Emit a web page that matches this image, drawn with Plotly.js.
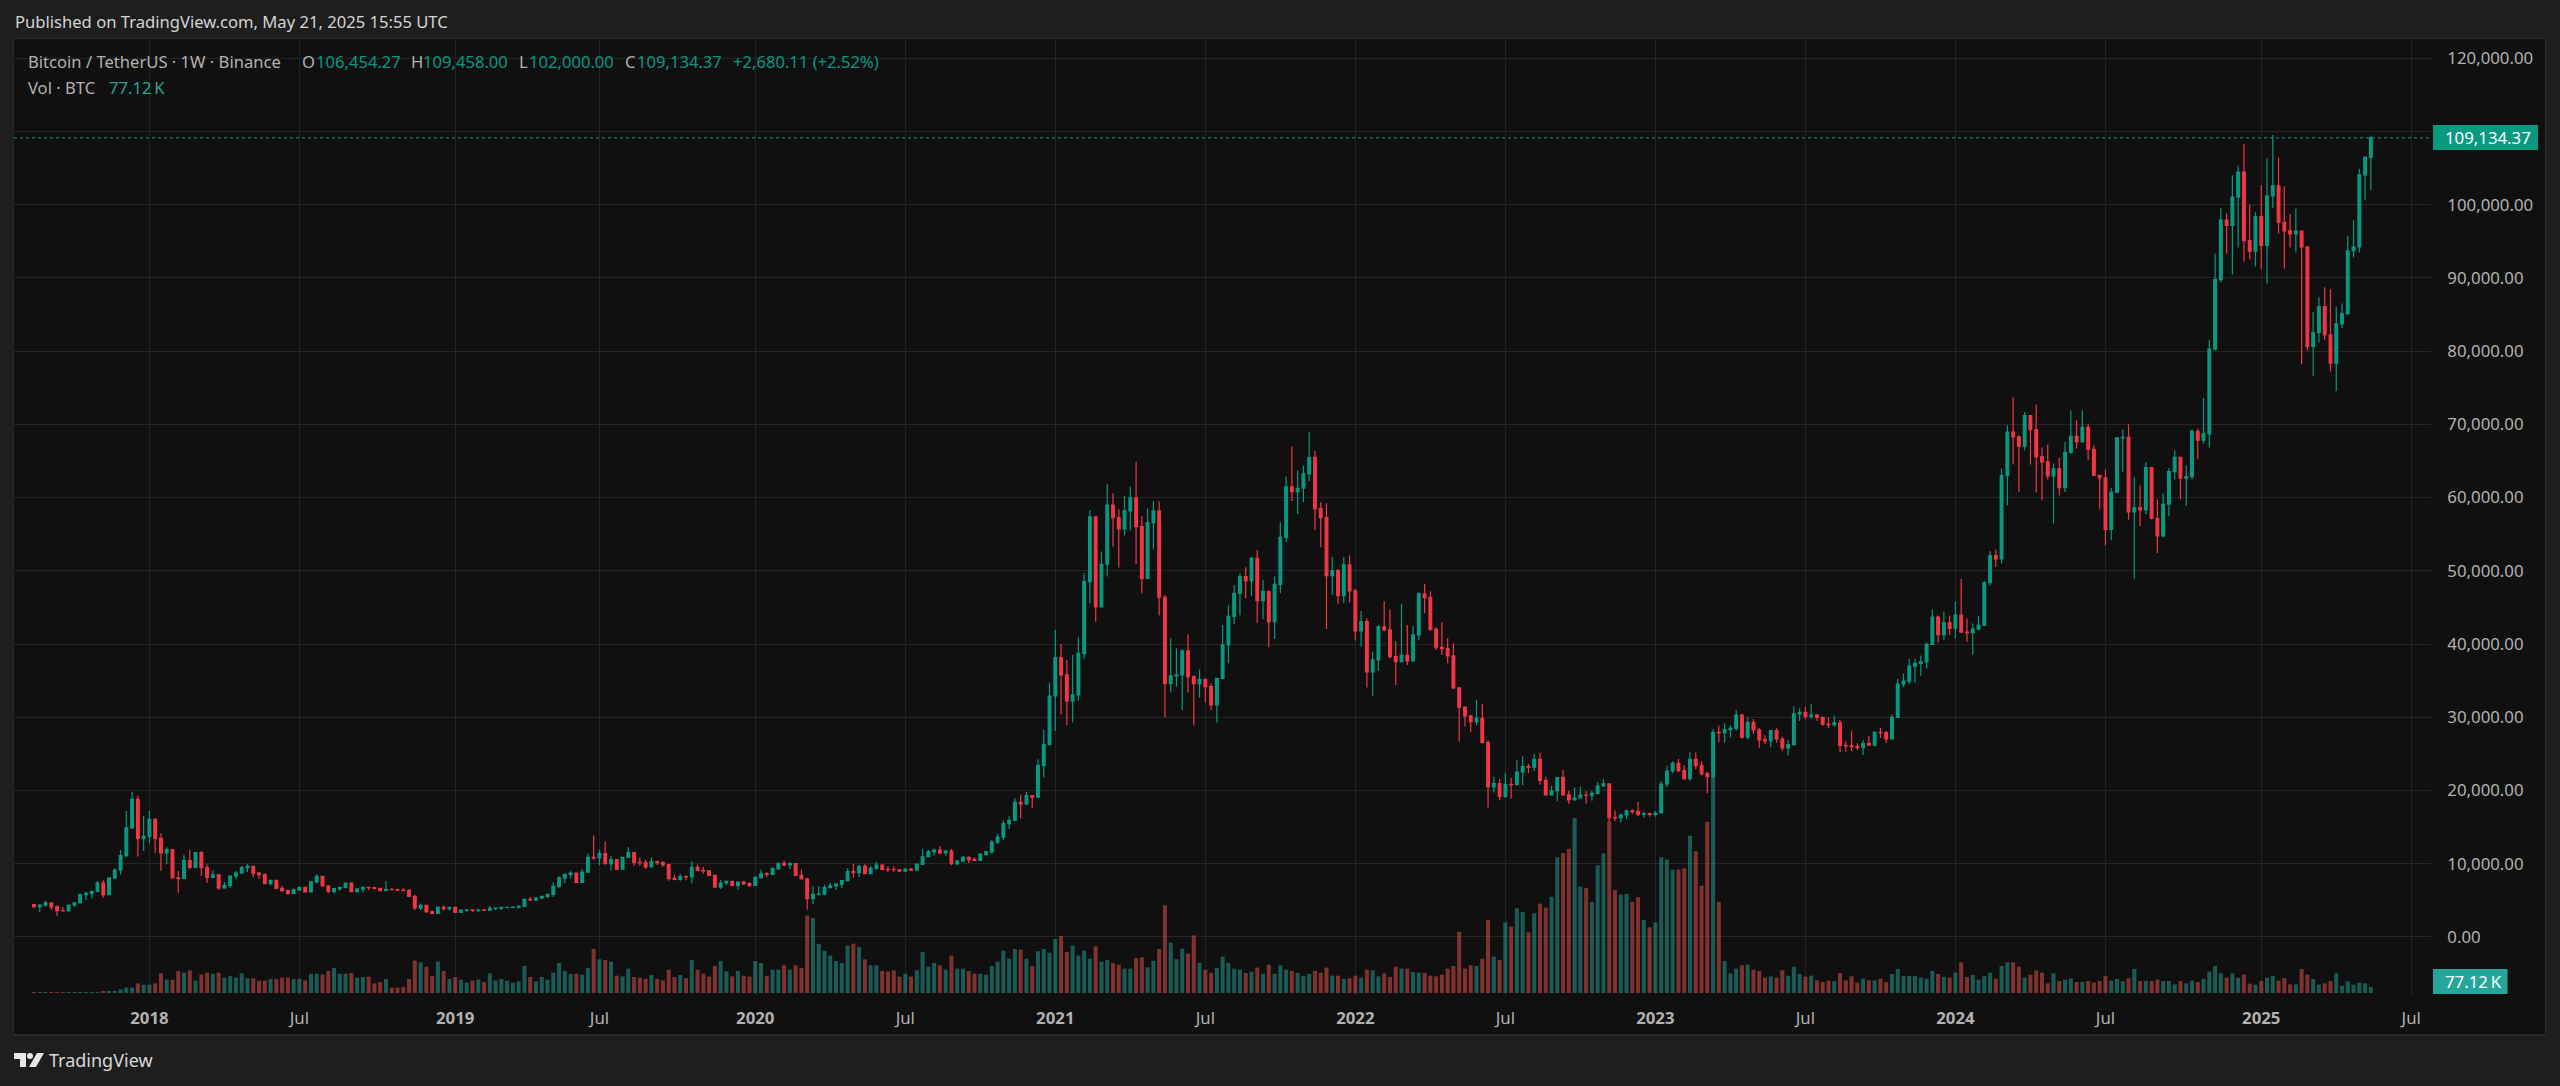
<!DOCTYPE html>
<html><head><meta charset="utf-8">
<script src="https://cdn.plot.ly/plotly-3.0.1.min.js"></script>
<style>html,body{margin:0;padding:0;background:#1e1e1e}#c{width:2560px;height:1086px}</style>
</head><body><div id="c"></div>
<script>
const firstOpen = 4400;
const closes = [
4120,4360,4640,4100,3590,3560,4360,4640,5770,5950,
6230,7365,5770,8050,9140,11100,14880,18790,13465,13740,
16060,13465,11465,11920,8050,8000,10420,9500,11510,9460,
8140,8460,6680,7050,8320,8730,9460,9640,8720,8540,
7270,7730,6640,6320,5950,6410,6770,6130,7500,8270,
6960,6230,6590,6770,7365,6180,6550,6770,6730,6630,
6320,6500,6450,6380,6340,5540,3950,4320,3410,3220,
4040,3860,4040,3360,3660,3680,3640,3700,3650,3900,
3920,4020,4040,4070,4170,5130,5040,5310,5540,5800,
6905,8050,8545,8730,7450,8860,10860,10780,11370,10000,
10550,9270,10860,11510,10184,10130,9546,10275,10140,9880,
7980,7860,8250,8200,9500,9090,9030,8410,6810,7360,
7580,7040,7470,7280,7040,8090,8620,8540,9320,10050,
9820,10000,8410,7910,5220,5810,5850,6720,6980,7220,
7680,8910,8770,9640,8630,9370,9790,9230,9200,9180,
8990,9270,9130,9910,10950,11640,11870,11460,11730,10000,
10370,10870,10550,10450,11270,11600,12960,13640,15460,15920,
18380,18150,19290,19100,23430,26250,32900,38140,35780,32230,
33050,38730,48530,57360,45070,50900,58960,57270,55720,58180,
59960,56040,48980,56590,58180,46390,34600,35640,35800,39060,
35550,34600,35190,34190,31680,35320,39880,43790,46930,49210,
48620,51710,45930,47210,43060,48160,54580,61460,60820,61280,
63230,65470,58500,57270,49350,50030,46620,50800,47250,41790,
43060,36190,37830,42340,41930,38290,37600,38470,37690,41240,
46840,46340,42020,39560,39380,38370,34000,31370,30180,29400,
29860,26540,20520,20930,19200,20840,20800,22520,23250,23200,
24250,21380,19380,19930,21750,19400,18700,18970,19380,19350,
19600,20610,20890,16290,16250,16650,17200,17100,16770,16830,
16720,16920,20880,22660,23700,22700,21620,24250,23440,22300,
21890,27950,27900,28300,28490,30300,27270,29300,28260,26900,
26780,28160,27030,25800,26260,30450,30670,30100,30290,29990,
29050,28980,29250,26170,26100,25990,25860,26440,26190,27950,
27900,27060,29990,34530,34940,36990,37350,37580,39950,43680,
41270,42900,42130,43950,41630,41550,42040,42540,48370,52080,
51620,63010,68930,68290,67010,71200,69290,65560,64870,62960,
63920,61370,66190,68380,67650,69610,66600,63050,62690,55670,
60730,68150,68240,58040,58640,58320,64100,57180,54770,59090,
63550,65510,62640,62870,69060,67830,68700,80280,89780,97890,
97160,101030,104440,95110,93650,98390,94430,101210,102580,97610,
96430,96020,96390,94240,80630,82540,86100,82220,78360,83730,
85100,93700,94240,104080,106454.27,109134.37];
const highs = [
4450,4450,4950,4720,4315,4130,4420,4700,5920,6135,
6280,7590,7730,8140,9370,11870,17200,19790,19290,16520,
17200,16200,14150,12240,11960,9000,11230,11830,11600,11690,
9920,9100,8480,7500,8420,9000,9690,10000,9680,8820,
8550,7780,7750,6960,6480,6640,6820,6860,7680,8550,
8250,7050,6680,6860,7380,7400,6590,6860,6860,6820,
6700,7640,6650,6590,6640,6540,5730,4550,4230,3640,
4180,4270,4130,4090,3720,3700,3690,3770,3770,4230,
4000,4100,4100,4100,4320,5220,5450,5400,5590,5910,
7450,8270,8620,8950,8770,9270,11370,13870,11910,13050,
11000,10590,10950,12280,11530,10870,10550,10870,10410,10320,
10000,8450,8630,8410,10320,9900,9550,9000,8500,7810,
7720,7600,7500,7680,7500,8320,9180,8820,9500,10090,
10450,10230,10050,9180,8090,6910,6910,7130,7400,7320,
7810,9360,9970,9860,9910,9680,10270,9960,9640,9640,
9270,9370,9410,10050,12050,11910,12050,12370,11910,12000,
10500,11050,11010,10870,11460,11730,13280,14100,15920,16470,
18930,19430,19830,19330,24250,28300,34720,41930,40015,37830,
38510,40925,49670,58320,57500,52630,61820,60590,58410,60230,
61500,64870,57500,58540,59500,59450,46700,40790,39420,39330,
41330,35690,36550,35300,34640,35320,42610,45300,48070,49670,
50490,51900,52850,48750,47210,49210,56630,62870,66970,63690,
64330,68970,66380,59360,59230,51900,50260,51850,52080,47520,
44520,43520,38970,42610,45840,44750,40330,45480,42610,42470,
47070,48250,47210,42300,42970,40790,40100,34100,31500,30300,
32360,31820,26900,21890,21530,22430,21700,24200,24660,23660,
25030,25160,21840,20620,21840,22800,19930,20430,20520,19930,
19930,21120,21520,21000,17250,16820,17350,17430,18430,17110,
16970,17200,21250,23350,23990,24300,23480,25210,25210,23940,
22570,28400,28855,29170,28870,30950,30450,30080,29760,28540,
27540,28260,28490,27350,26900,31500,31220,31450,31810,30430,
30080,30000,30220,29630,26710,28170,26440,26900,27490,28080,
28580,28120,30400,35270,35940,37940,37940,38440,40220,44720,
43890,44410,43860,45820,48870,43500,42810,43820,48640,52720,
52900,63960,69880,73660,68520,71700,71200,72700,66830,67240,
64650,65420,67610,71930,70560,71930,70110,67150,63100,63830,
61320,68290,69290,70020,62730,61690,64870,64100,59770,60550,
64010,66470,65500,64420,69290,69420,73610,81540,93290,99570,
98840,104030,105310,108310,99980,98980,102710,106350,109540,106450,
102480,98750,99480,96300,94300,85320,87370,88730,88460,86100,
86500,95750,97890,104900,106630,109458];
const lows = [
3900,3360,4130,3670,2860,3540,3540,4130,4580,5040,
5270,6100,5360,5760,7860,8550,10870,14740,10960,11740,
12780,11510,9050,9960,8010,6040,7980,9230,9370,8320,
7365,8050,6410,6590,6680,7870,8590,8870,8140,7910,
7230,7050,6620,6180,5770,5820,6270,6040,6270,7330,
6910,5950,5910,6280,6640,6140,6130,6050,6360,6500,
6220,6270,6400,6330,6320,5500,3680,3680,3310,3180,
3180,3590,3590,3300,3450,3400,3400,3350,3540,3650,
3680,3680,3900,3900,3860,4070,4860,4910,5140,5270,
5450,6720,7360,8000,7400,7430,8820,10550,9780,9900,
9050,9090,9370,10770,9680,9720,9280,9640,9820,9590,
7680,7730,7680,7730,7320,8950,8640,8360,6720,6540,
7130,6990,6450,7040,6810,7000,7950,8180,8500,9140,
9640,9270,8360,7860,3720,4450,5640,5680,6770,6400,
6680,7590,8090,8180,8590,8590,9220,9090,8860,8820,
8860,8820,8990,9090,9880,10910,11100,11280,11100,9770,
9770,10180,10090,10320,10450,11050,11360,12690,13190,14780,
15830,16200,18020,17600,18970,21800,28080,28130,30360,28950,
29300,32270,38010,45570,43060,45000,49210,53310,50440,54810,
55490,50940,46930,48900,52940,43880,29990,33370,34190,30990,
33370,28860,32680,32000,31000,29270,35200,37370,42750,43930,
46250,46570,42880,43380,39560,40700,46930,53950,59550,57770,
59410,62280,55590,53220,42060,46710,45480,45570,45660,40470,
39650,34050,32910,36330,41700,38010,34410,37500,37150,37600,
40470,44200,41790,39200,38510,37370,33820,26670,28720,27990,
28900,26440,17660,19710,18650,18980,18880,20700,20700,22390,
22660,20790,19300,19300,18520,19300,18160,18600,18900,18200,
18610,19450,20500,15740,15840,15610,16060,16780,16500,16290,
16400,16430,16950,20430,22340,22530,21420,21340,22890,22030,
19610,21890,26580,26530,27220,28170,27080,26990,27720,25850,
26350,25900,26530,25440,24760,26200,29490,29720,29790,29490,
28850,28540,28700,25210,25300,25350,25530,24850,26080,26000,
27170,26490,27000,29900,34100,34550,34750,35660,36670,39900,
40220,40540,41220,40770,41500,40310,38530,41900,42500,48000,
50530,50990,58950,64510,60780,66470,64510,60680,59640,62460,
56450,60270,60780,66000,66700,67500,65100,62900,58410,53490,
54170,60600,63460,56990,48940,56090,57770,57000,52440,54600,
57450,62460,59770,58860,62460,65240,67380,66830,80100,89420,
93290,90510,94150,92240,92560,91560,91240,89240,99530,96110,
91240,94150,93470,78260,80080,76620,81180,81540,77220,74530,
83130,85100,92830,93470,100660,102000];
const volumesK = [
13,13,13,13,13,13,13,13,13,13,
13,13,26,26,26,47,69,69,124,107,
107,124,253,171,171,283,261,291,159,236,
261,248,261,197,218,197,253,189,189,159,
159,180,180,197,197,180,180,163,248,248,
236,283,321,248,248,257,197,206,210,124,
141,180,69,69,77,180,416,394,338,218,
403,283,180,206,171,133,159,171,141,253,
159,180,159,133,150,347,206,150,206,171,
261,386,283,244,248,236,321,566,433,424,
403,223,214,313,206,197,180,231,180,163,
300,206,231,189,424,300,248,210,347,411,
278,214,283,223,210,411,386,218,300,300,
356,300,356,321,994,964,630,544,480,411,
386,608,634,591,433,356,356,283,274,291,
210,248,210,291,527,338,386,356,300,480,
313,313,283,248,248,236,347,403,544,441,
566,557,441,347,536,566,518,694,733,527,
608,480,544,441,600,403,424,386,364,313,
313,450,458,330,411,566,1127,647,433,570,
506,741,386,300,257,321,467,386,313,300,
257,274,326,248,364,248,356,300,283,257,
218,244,283,261,326,223,223,180,189,223,
197,300,291,214,253,206,338,313,313,270,
261,261,223,214,236,313,347,788,313,356,
347,441,938,467,424,908,853,1088,1041,780,
1024,1148,1097,1238,1744,1799,1855,2249,1367,1350,
1170,1641,1791,2206,1324,1264,1272,1170,1230,938,
844,908,1744,1714,1585,1585,1602,2022,1821,1379,
2202,2785,1170,411,253,313,356,364,300,283,
197,214,197,291,223,338,244,210,223,163,
141,159,150,257,163,214,133,184,163,163,
184,141,244,308,218,218,218,197,184,283,
244,206,197,261,394,206,231,171,218,261,
184,347,394,394,338,197,236,291,261,124,
253,154,171,184,141,141,154,133,154,218,
159,180,150,189,308,154,154,154,171,154,
154,111,154,124,159,141,180,274,347,253,
197,253,197,236,120,107,154,197,218,159,
189,111,111,308,236,180,107,124,154,253,
94,150,107,133,124,77.12];
const priceTicks = [0,10000,20000,30000,40000,50000,60000,70000,80000,90000,100000,110000,120000];
const timeTickDates = ['2018-01-01','2018-07-02','2019-01-07','2019-07-01','2020-01-06','2020-07-06','2021-01-04','2021-07-05','2022-01-03','2022-07-04','2023-01-02','2023-07-03','2024-01-01','2024-07-01','2025-01-06','2025-07-07'];
const timeTickLabels = ['2018','Jul','2019','Jul','2020','Jul','2021','Jul','2022','Jul','2023','Jul','2024','Jul','2025','Jul'];

if (closes.length!==406||highs.length!==406||lows.length!==406||volumesK.length!==406)
  throw new Error('len '+[closes.length,highs.length,lows.length,volumesK.length]);

const weeks = closes.map((_,i)=>new Date(Date.UTC(2017,7,14+7*i)).toISOString().slice(0,10));
const opens = closes.map((_,i)=>i===0?firstOpen:closes[i-1]);
const volColors = closes.map((c,i)=>c>=opens[i]?'rgba(38,166,154,0.5)':'rgba(239,83,80,0.5)');

const UP='#089981', DOWN='#f23645', FONT='"Noto Sans","Open Sans",sans-serif';
const L=14,R=2431,T=39,B=995;
const px=x=>(x-L)/(R-L), py=y=>(B-y)/(B-T);

const traces=[
 {type:'bar',x:weeks,y:volumesK.map(v=>v*1000),marker:{color:volColors,line:{width:0}},yaxis:'y',xaxis:'x',hoverinfo:'skip'},
 {type:'candlestick',x:weeks,open:opens,high:highs,low:lows,close:closes,yaxis:'y2',xaxis:'x',whiskerwidth:0,
  increasing:{line:{color:UP,width:1.2},fillcolor:UP},decreasing:{line:{color:DOWN,width:1.2},fillcolor:DOWN},hoverinfo:'skip'}
];
const txt=(x,y,text,color,size)=>({xref:'paper',yref:'paper',x:px(x),y:py(y),xanchor:'left',yanchor:'middle',text,showarrow:false,align:'left',borderpad:0,
  font:{family:FONT,size:size||16.6,color}});
const GREY='#b2b2b2', GV='#089981';
const annotations=[
 txt(14,22,'Published on TradingView.com, May 21, 2025 15:55 UTC','#d4d4d4'),
 txt(27,62,'Bitcoin / TetherUS · 1W · Binance',GREY),
 txt(301,62,'O',GREY),txt(315,62,'106,454.27',GV),
 txt(410,62,'H',GREY),txt(422,62,'109,458.00',GV),
 txt(518,62,'L',GREY),txt(528,62,'102,000.00',GV),
 txt(624,62,'C',GREY),txt(636,62,'109,134.37',GV),
 txt(732,62,'+2,680.11 (+2.52%)',GV),
 txt(27,87,'Vol · BTC',GREY),txt(108,87,'77.12\u202fK','#26a69a'),
 txt(2444,137.5,'109,134.37','#ffffff',16.8),
 txt(2444,981.5,'77.12\u202fK','#ffffff',16.8),
 txt(48,1060,'TradingView','#d8d8d8',18)
];
const rect=(x0,y0,x1,y1,fill,layer)=>({type:'rect',xref:'paper',yref:'paper',x0:px(x0),y0:py(y0),x1:px(x1),y1:py(y1),fillcolor:fill,line:{width:0},layer:layer||'above'});
const logo=(pts,fill)=>({type:'path',xref:'paper',yref:'paper',path:'M'+pts.map(p=>px(p[0])+','+py(p[1])).join(' L')+' Z',fillcolor:fill,line:{width:0},layer:'above'});
const shapes=[
 rect(13,38,2546,1036,'#2a2a2a','below'),
 rect(14,39,2545,1034,'#101010','below'),
 {type:'line',xref:'paper',yref:'y2',x0:0,x1:1,y0:closes[405],y1:closes[405],line:{color:UP,width:1,dash:'dot'},layer:'above'},
 rect(2433,125,2538,150,UP),
 rect(2433,969,2507.5,994,'#26a69a'),
 logo([[14,1053],[26,1053],[26,1067],[20,1067],[20,1059],[14,1059]],'#e8e8e8'),
 {type:'circle',xref:'paper',yref:'paper',x0:px(27),x1:px(33),y0:py(1053),y1:py(1059),fillcolor:'#e8e8e8',line:{width:0},layer:'above'},
 logo([[37,1053],[44,1053],[36,1067],[29,1067]],'#e8e8e8')
];
const layout={
 width:2560,height:1086,paper_bgcolor:'#1e1e1e',plot_bgcolor:'rgba(0,0,0,0)',showlegend:false,hovermode:false,
 margin:{l:L,r:2560-R,t:T,b:1086-B,pad:0},bargap:0.3,boxgap:0.33,
 xaxis:{type:'date',range:['2017-07-20 17:45','2025-07-30 22:48'],rangeslider:{visible:false},showgrid:true,gridcolor:'#222222',gridwidth:1,zeroline:false,showline:false,
  tickmode:'array',tickvals:timeTickDates,ticktext:timeTickLabels.map(t=>t==='Jul'?t:'<b>'+t+'</b>'),tickfont:{family:FONT,size:16.8,color:'#b2b2b2'},ticks:'outside',ticklen:8,tickcolor:'rgba(0,0,0,0)'},
 yaxis:{range:[-25700,12259000],visible:false,showgrid:false,zeroline:false,fixedrange:true},
 yaxis2:{overlaying:'y',side:'right',range:[-7935,122635],showgrid:true,gridcolor:'#252525',gridwidth:1,zeroline:false,showline:false,
  tickmode:'array',tickvals:priceTicks,tickformat:',.2f',tickfont:{family:FONT,size:16.8,color:'#b2b2b2'},ticks:'outside',ticklen:12,tickcolor:'rgba(0,0,0,0)'},
 annotations,shapes
};
Plotly.newPlot('c',traces,layout,{displayModeBar:false,staticPlot:true});
</script></body></html>
